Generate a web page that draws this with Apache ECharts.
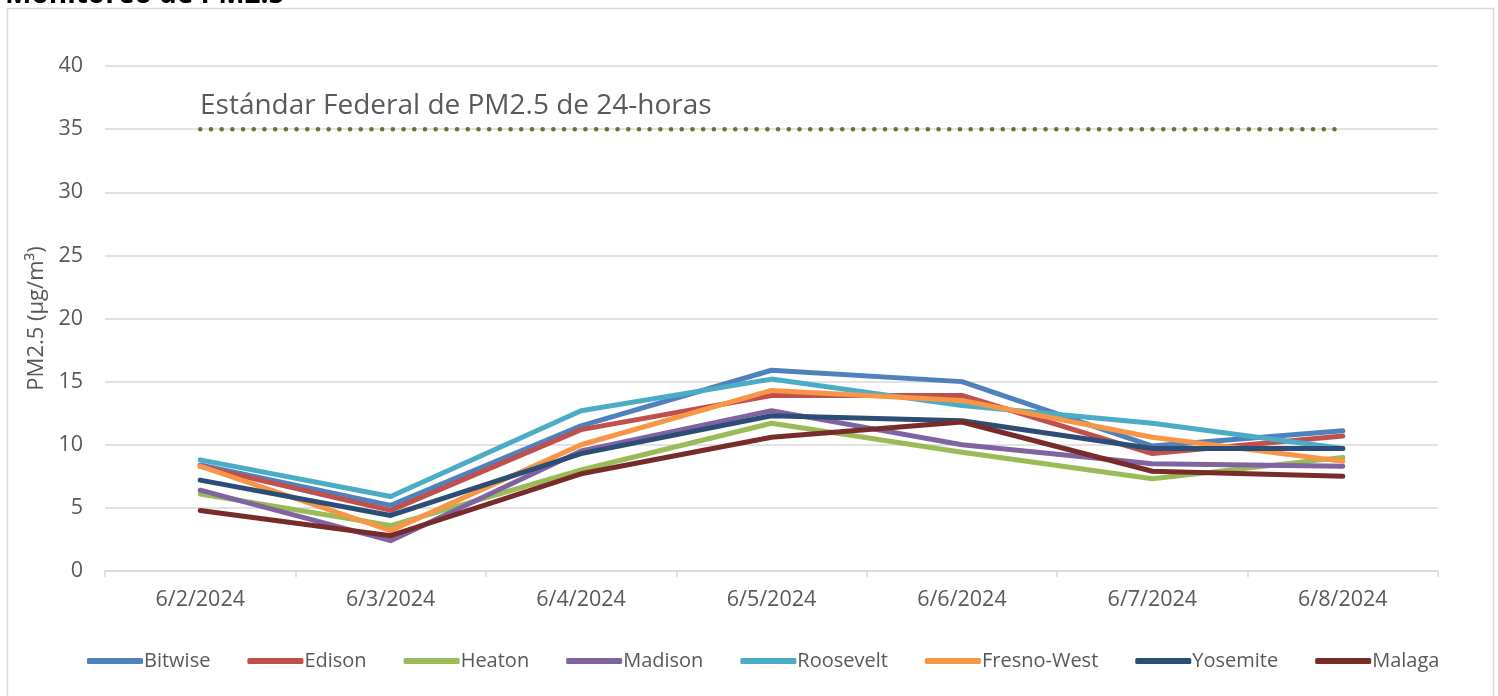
<!DOCTYPE html>
<html lang="es">
<head>
<meta charset="utf-8">
<title>Monitoreo de PM2.5</title>
<script src="https://cdn.jsdelivr.net/npm/echarts@6/dist/echarts.min.js"></script>
<style>
  html, body { margin: 0; padding: 0; background: #fff; }
  #chart { width: 1498px; height: 696px; }
</style>
</head>
<body>
<div id="chart"></div>
<script>
const days = ['6/2/2024', '6/3/2024', '6/4/2024', '6/5/2024', '6/6/2024', '6/7/2024', '6/8/2024'];

const bitwise    = [8.4, 5.2, 11.5, 15.9, 15.0, 9.9, 11.1];
const edison     = [8.3, 4.8, 11.2, 13.9, 13.9, 9.3, 10.7];
const heaton     = [6.1, 3.6, 8.0, 11.7, 9.4, 7.3, 9.0];
const madison    = [6.4, 2.4, 9.5, 12.7, 10.0, 8.5, 8.3];
const roosevelt  = [8.8, 5.9, 12.7, 15.2, 13.1, 11.7, 9.7];
const fresnoWest = [8.3, 3.2, 10.0, 14.3, 13.5, 10.6, 8.7];
const yosemite   = [7.2, 4.4, 9.3, 12.3, 11.9, 9.7, 9.7];
const malaga     = [4.8, 2.8, 7.7, 10.6, 11.8, 7.9, 7.5];
const standard   = [35, 35, 35, 35, 35, 35, 35];

const stations = [
  { name: 'Bitwise', data: bitwise, color: '#4f81bd' },
  { name: 'Edison', data: edison, color: '#c0504d' },
  { name: 'Heaton', data: heaton, color: '#9bbb59' },
  { name: 'Madison', data: madison, color: '#8064a2' },
  { name: 'Roosevelt', data: roosevelt, color: '#4bacc6' },
  { name: 'Fresno-West', data: fresnoWest, color: '#f79646' },
  { name: 'Yosemite', data: yosemite, color: '#2c4d75' },
  { name: 'Malaga', data: malaga, color: '#772c2a' }
];

const FONT = '"Open Sans", "Noto Sans", sans-serif';

var chart = echarts.init(document.getElementById('chart'));

var series = stations.map(function (s) {
  return {
    name: s.name,
    type: 'line',
    data: s.data,
    showSymbol: false,
    symbol: 'none',
    color: s.color,
    lineStyle: { width: 5, color: s.color, cap: 'round', join: 'round' },
    emphasis: { disabled: true },
    animation: false
  };
});

// federal standard
series.unshift({
  name: 'Estándar',
  type: 'line',
  data: standard,
  symbol: 'none',
  lineStyle: { width: 4.5, color: '#5e7a2a', type: [0.1, 10.6], cap: 'round' },
  emphasis: { disabled: true },
  animation: false
});

chart.setOption({
  backgroundColor: '#fff',
  title: {
    text: 'Monitoreo de PM2.5',
    left: 0,
    top: -24,
    textStyle: { fontFamily: FONT, fontSize: 28, fontWeight: 'bold', color: '#000' }
  },
  grid: { left: 105, right: 60, top: 66, bottom: 125, containLabel: false },
  legend: {
    data: stations.map(function (s) { return s.name; }),
    bottom: 20,
    left: 82,
    icon: 'roundRect',
    itemWidth: 56,
    itemHeight: 6,
    itemGap: 37,
    textStyle: { fontFamily: FONT, fontSize: 20, color: '#595959', padding: [0, 0, 0, -4] }
  },
  xAxis: {
    type: 'category',
    data: days,
    boundaryGap: true,
    axisLine: { lineStyle: { color: '#d9d9d9', width: 1.5 } },
    axisTick: { show: true, length: 6, lineStyle: { color: '#d9d9d9', width: 1.5 } },
    axisLabel: { fontFamily: FONT, fontSize: 21.5, color: '#595959', margin: 18 }
  },
  yAxis: {
    type: 'value',
    min: 0,
    max: 40,
    interval: 5,
    name: 'PM2.5 (µg/m³)',
    nameLocation: 'middle',
    nameGap: 57,
    nameTextStyle: { fontFamily: FONT, fontSize: 22, color: '#595959' },
    axisLine: { show: false },
    axisTick: { show: false },
    axisLabel: { fontFamily: FONT, fontSize: 21.5, color: '#595959', margin: 22 },
    splitLine: { lineStyle: { color: '#d9d9d9', width: 1.5 } }
  },
  graphic: [
    {
      type: 'rect',
      shape: { x: 7.5, y: 8.5, width: 1486, height: 700 },
      style: { fill: 'none', stroke: '#d9d9d9', lineWidth: 1.5 },
      z: -1
    },
    {
      type: 'text',
      left: 200,
      top: 92,
      style: {
        text: 'Estándar Federal de PM2.5 de 24-horas',
        fontFamily: FONT,
        fontSize: 28,
        fill: '#595959'
      }
    }
  ],
  series: series
});
</script>
</body>
</html>
